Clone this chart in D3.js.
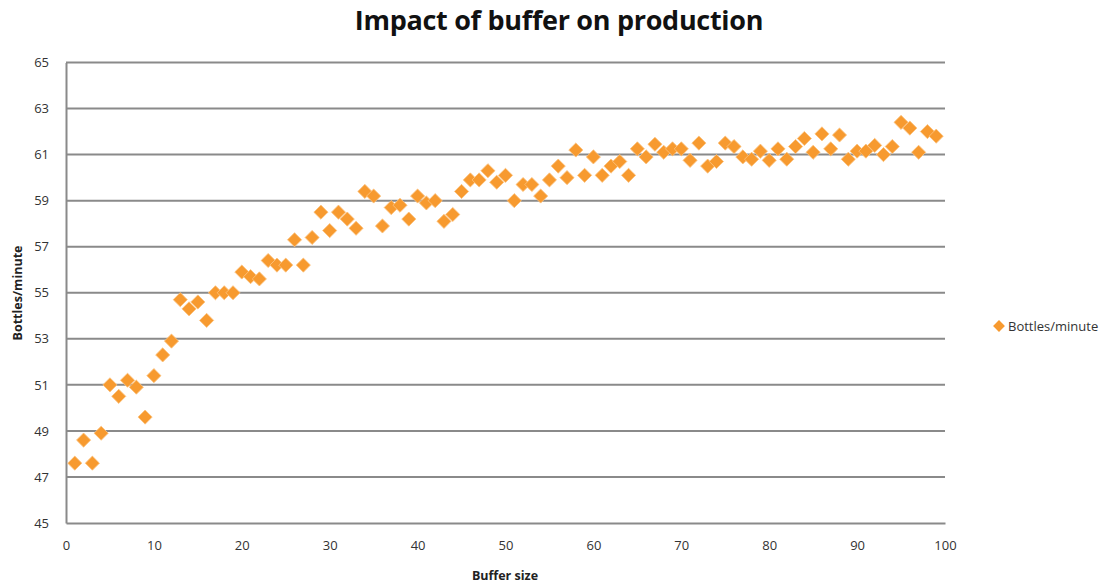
<!DOCTYPE html>
<html><head><meta charset="utf-8">
<script src="https://cdn.jsdelivr.net/npm/d3@7/dist/d3.min.js"></script>
<style>body{margin:0;background:#fff;}svg{display:block;font-family:"Open Sans",sans-serif;}</style>
</head><body>
<svg id="c" width="1117" height="585"></svg>
<script>
const title = "Impact of buffer on production";
const xLabel = "Buffer size";
const yLabel = "Bottles/minute";
const seriesName = "Bottles/minute";
const bufferSize = d3.range(1, 100);
const bottlesPerMinute = [
 47.6,48.6,47.6,48.9,51.0,50.5,51.2,50.9,49.6,51.4,
 52.3,52.9,54.7,54.3,54.6,53.8,55.0,55.0,55.0,55.9,
 55.7,55.6,56.4,56.2,56.2,57.3,56.2,57.4,58.5,57.7,
 58.5,58.2,57.8,59.4,59.2,57.9,58.7,58.8,58.2,59.2,
 58.9,59.0,58.1,58.4,59.4,59.9,59.9,60.3,59.8,60.1,
 59.0,59.7,59.7,59.2,59.9,60.5,60.0,61.2,60.1,60.9,
 60.1,60.5,60.7,60.1,61.25,60.9,61.45,61.1,61.25,61.25,
 60.75,61.5,60.5,60.7,61.5,61.35,60.9,60.8,61.15,60.75,
 61.25,60.8,61.35,61.7,61.1,61.9,61.25,61.85,60.8,61.15,
 61.15,61.4,61.0,61.35,62.4,62.15,61.1,62.0,61.8
];
const xTicks = [0,10,20,30,40,50,60,70,80,90,100];
const yTicks = [45,47,49,51,53,55,57,59,61,63,65];

const svg = d3.select("#c");
const L = 66, R = 945, T = 62.5, B = 523;
const x = d3.scaleLinear().domain([0,100]).range([L,R]);
const y = d3.scaleLinear().domain([45,65]).range([B,T]);

// gridlines
svg.append("g").selectAll("line").data(yTicks.filter(v=>v>45)).join("line")
  .attr("x1",L).attr("x2",R).attr("y1",d=>y(d)).attr("y2",d=>y(d))
  .attr("stroke","#8a8a8a").attr("stroke-width",2);

// axes
const yAxis = svg.append("g").attr("transform",`translate(${L},0)`)
  .call(d3.axisLeft(y).tickValues(yTicks).tickSize(0).tickPadding(17));
const xAxis = svg.append("g").attr("transform",`translate(0,${B})`)
  .call(d3.axisBottom(x).tickValues(xTicks).tickSize(0).tickPadding(18));
[yAxis,xAxis].forEach(g=>{
  g.select(".domain").attr("stroke","#8a8a8a").attr("stroke-width",2);
  g.selectAll("text").attr("font-family","'Open Sans',sans-serif").attr("font-size",13).attr("fill","#333");
});

// points
const sym = d3.symbol().type(d3.symbolSquare).size(100);
svg.append("g").selectAll("path").data(bufferSize.map((b,i)=>[b,bottlesPerMinute[i]])).join("path")
  .attr("d",sym)
  .attr("transform",d=>`translate(${x(d[0])},${y(d[1])}) rotate(45)`)
  .attr("fill","#f79a2f").attr("stroke","#fbc27e").attr("stroke-width",0.8);

// title
svg.append("text").attr("x",559).attr("y",30).attr("text-anchor","middle")
  .attr("font-family","'Open Sans',sans-serif").attr("font-weight",700).attr("font-size",27)
  .attr("letter-spacing",-0.3).attr("fill","#111").text(title);

// axis titles
svg.append("text").attr("x",505).attr("y",580).attr("text-anchor","middle")
  .attr("font-weight",700).attr("font-size",12.5).attr("fill","#222").text(xLabel);
svg.append("text").attr("transform","translate(22,293) rotate(-90)").attr("text-anchor","middle")
  .attr("font-weight",700).attr("font-size",12.5).attr("fill","#222").text(yLabel);

// legend
svg.append("path").attr("d",d3.symbol().type(d3.symbolSquare).size(70))
  .attr("transform","translate(999,326) rotate(45)").attr("fill","#f79a2f");
svg.append("text").attr("x",1008).attr("y",331).attr("font-size",13).attr("fill","#333").text(seriesName);
</script>
</body></html>
